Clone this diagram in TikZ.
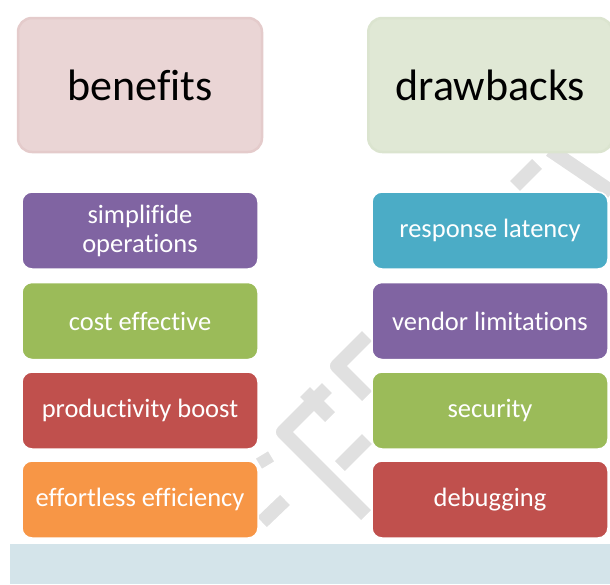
\documentclass[tikz,border=0pt]{standalone}
\usepackage{fontspec}
\setmainfont{Carlito}[Ligatures=NoCommon]
\definecolor{cPurple}{HTML}{8064A2}
\definecolor{cGreen}{HTML}{9BBB59}
\definecolor{cRed}{HTML}{C0504D}
\definecolor{cOrange}{HTML}{F79646}
\definecolor{cBlue}{HTML}{4BACC6}
\definecolor{hPink}{HTML}{EAD5D5}
\definecolor{hPinkB}{HTML}{E4CBCB}
\definecolor{hGreen}{HTML}{E0E8D5}
\definecolor{hGreenB}{HTML}{DBE4CF}
\definecolor{band}{HTML}{D4E4EA}
\definecolor{wm}{HTML}{E0E0E0}
\tikzset{
  head/.style={rounded corners=14pt, minimum width=244pt, minimum height=134pt,
    line width=2.5pt, font=\fontsize{44}{50}\selectfont, text=black, inner sep=0pt},
  item/.style={rounded corners=10pt, minimum width=236pt, minimum height=77pt,
    draw=white, line width=1.5pt, text=white, align=center,
    font=\fontsize{26.5}{29}\selectfont, inner sep=0pt},
  wmark/.style={draw=wm, line width=14pt, line join=round}
}
\begin{document}
\begin{tikzpicture}[x=1pt,y=-1pt]
\useasboundingbox (0,0) rectangle (610,584);
% bottom band
\fill[band] (10,544) rectangle (610,584);
% faint watermark strokes
\draw[wmark] (515,186) -- (537,164);
\draw[wmark] (550,150) -- (612,192);
\draw[wmark] (367,336) -- (337,366) -- (367,396);
\draw[wmark] (327,388) -- (283,432) -- (366,515);
\draw[wmark] (340,466) -- (367,439);
\draw[wmark] (262,455) -- (268,465);
\draw[wmark] (262,522) -- (285,500);
\draw[wmark] (305,392) -- (330,417);
% headers
\node[head, fill=hPink, draw=hPinkB] (ben) at (140,85) {benefits};
\node[head, fill=hGreen, draw=hGreenB, anchor=west] (dra) at (367,85) {drawbacks};
% left column
\node[item, fill=cPurple] (l1) at (140,230.5) {simplifide\\operations};
\node[item, fill=cGreen]  (l2) at (140,321) {cost effective};
\node[item, fill=cRed]    (l3) at (140,410.5) {productivity boost};
\node[item, fill=cOrange] (l4) at (140,499.5) {effortless efficiency};
% right column
\node[item, fill=cBlue]   (r1) at (490,230.5) {response latency};
\node[item, fill=cPurple] (r2) at (490,321) {vendor limitations};
\node[item, fill=cGreen]  (r3) at (490,410.5) {security};
\node[item, fill=cRed]    (r4) at (490,499.5) {debugging};
\end{tikzpicture}
\end{document}
